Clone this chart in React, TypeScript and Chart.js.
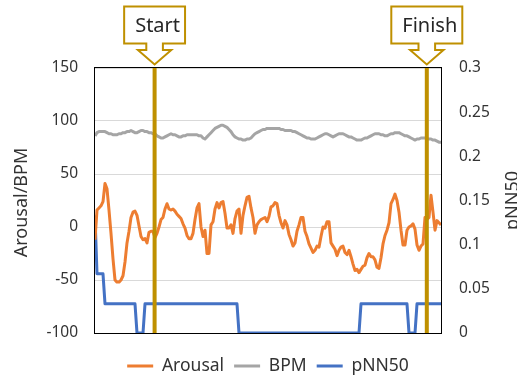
import { useEffect, useRef } from 'react';
import { Chart, registerables } from 'chart.js';

Chart.register(...registerables);

const FONT = "'Noto Sans', 'DejaVu Sans', sans-serif";

// ---- data ----
const seriesNames = ['Arousal', 'BPM', 'pNN50'];
const leftAxisTitle = 'Arousal/BPM';
const rightAxisTitle = 'pNN50';

const arousal = [
  -12, 16, 18, 20, 24, 41, 36, 16, -6, -30,
  -50, -52, -52, -50, -46, -33, -15, -4, 9, 14,
  15, 11, 1, -9, -12, -11, -15, -5, -4, -4,
  -10, -6, 0, 7, 9, 17, 22, 17, 16, 17,
  15, 12, 10, 8, 3, -1, -8, -11, -11, -6,
  7, 18, 22, 0, -9, -3, -25, -25, 2, 5,
  17, 23, 18, 23, 24, 13, -1, -1, 2, -6,
  8, 15, 17, -6, 11, 20, 28, 29, 18, 9,
  -6, 2, 5, 7, 8, 9, 5, 10, 19, 20,
  23, 22, 11, 4, -1, 6, 2, -7, -12, -18,
  -15, -4, 2, 9, 9, -4, -9, -16, -20, -24,
  -22, -18, -19, -9, 0, -1, 5, 5, -15, -18,
  -21, -27, -22, -19, -18, -24, -26, -22, -28, -35,
  -41, -40, -43, -40, -37, -36, -29, -25, -28, -28,
  -31, -38, -39, -29, -16, -8, -3, 4, 22, 26,
  31, 25, 14, -3, -17, -17, -3, 0, 1, 3,
  -2, -17, -22, -18, -16, 9, 7, 9, 30, 14,
  -3, 6, 4, 2,
];

const bpm = [
  86, 89, 90, 90, 90, 90, 89, 88, 88, 87,
  87, 87, 88, 88, 89, 89, 90, 90, 91, 90,
  89, 89, 90, 91, 91, 90, 90, 89, 89, 88,
  88, 86, 85, 84, 84, 85, 86, 87, 88, 87,
  87, 86, 85, 85, 86, 86, 87, 87, 87, 87,
  87, 87, 86, 86, 84, 83, 85, 87, 89, 91,
  93, 94, 95, 96, 96, 95, 94, 92, 90, 87,
  85, 84, 83, 83, 82, 82, 83, 83, 84, 86,
  88, 89, 90, 91, 92, 92, 93, 93, 93, 93,
  93, 93, 93, 92, 92, 91, 91, 91, 91, 90,
  90, 89, 88, 87, 86, 85, 84, 84, 83, 83,
  83, 84, 85, 86, 87, 88, 88, 87, 86, 85,
  86, 87, 88, 88, 88, 87, 86, 85, 85, 84,
  83, 82, 82, 82, 83, 84, 84, 85, 86, 87,
  88, 88, 88, 87, 87, 86, 86, 87, 88, 88,
  89, 89, 89, 88, 87, 86, 86, 85, 84, 83,
  82, 83, 83, 84, 84, 84, 83, 83, 83, 82,
  82, 81, 80, 80,
];

const pnn50 = [
  0.133, 0.067, 0.067, 0.067, 0.067, 0.033, 0.033, 0.033, 0.033, 0.033,
  0.033, 0.033, 0.033, 0.033, 0.033, 0.033, 0.033, 0.033, 0.033, 0.033,
  0.033, 0, 0, 0, 0, 0.033, 0.033, 0.033, 0.033, 0.033,
  0.033, 0.033, 0.033, 0.033, 0.033, 0.033, 0.033, 0.033, 0.033, 0.033,
  0.033, 0.033, 0.033, 0.033, 0.033, 0.033, 0.033, 0.033, 0.033, 0.033,
  0.033, 0.033, 0.033, 0.033, 0.033, 0.033, 0.033, 0.033, 0.033, 0.033,
  0.033, 0.033, 0.033, 0.033, 0.033, 0.033, 0.033, 0.033, 0.033, 0.033,
  0.033, 0.033, 0, 0, 0, 0, 0, 0, 0, 0,
  0, 0, 0, 0, 0, 0, 0, 0, 0, 0,
  0, 0, 0, 0, 0, 0, 0, 0, 0, 0,
  0, 0, 0, 0, 0, 0, 0, 0, 0, 0,
  0, 0, 0, 0, 0, 0, 0, 0, 0, 0,
  0, 0, 0, 0, 0, 0, 0, 0, 0, 0,
  0, 0, 0, 0.033, 0.033, 0.033, 0.033, 0.033, 0.033, 0.033,
  0.033, 0.033, 0.033, 0.033, 0.033, 0.033, 0.033, 0.033, 0.033, 0.033,
  0.033, 0.033, 0.033, 0.033, 0.033, 0.033, 0.033, 0, 0, 0,
  0, 0.033, 0.033, 0.033, 0.033, 0.033, 0.033, 0.033, 0.033, 0.033,
  0.033, 0.033, 0.033, 0.033,
];

const timeIndex = arousal.map((_, i) => i);

const leftMin = -100;
const leftMax = 150;
const leftStep = 50;
const rightMin = 0;
const rightMax = 0.3;
const rightStep = 0.05;

const markerLabels = ['Start', 'Finish'];
const markerTimes = [29.8, 165.9];

// ---- styles ----
const COLORS = ['#ED7D31', '#A5A5A5', '#4472C4'];
const GOLD = '#BF9000';
const TEXT = '#333333';

const decorPlugin = {
  id: 'decor',
  beforeDatasetsDraw(chart: any) {
    const { ctx, chartArea: a } = chart;
    ctx.save();
    ctx.strokeStyle = '#000000';
    ctx.lineWidth = 1;
    ctx.strokeRect(Math.round(a.left) - 0.5, Math.round(a.top) - 0.5, Math.round(a.right - a.left) + 1, Math.round(a.bottom - a.top) + 1);
    ctx.restore();
  },
  afterDatasetsDraw(chart: any) {
    const { ctx, chartArea: a, scales } = chart;
    ctx.save();
    ctx.fillStyle = GOLD;
    markerTimes.forEach((t) => {
      const x = scales.x.getPixelForValue(t);
      ctx.fillRect(x - 2, a.top, 4, a.bottom - a.top);
    });
    ctx.restore();
  },
  afterDraw(chart: any) {
    const { ctx, chartArea: a, scales } = chart;
    ctx.save();
    // callouts
    ctx.font = `20px ${FONT}`;
    markerTimes.forEach((t, i) => {
      const cx = scales.x.getPixelForValue(t);
      const label = markerLabels[i];
      const tw = ctx.measureText(label).width;
      const bw = tw + 16;
      const L = cx - bw / 2;
      const R = cx + bw / 2;
      const top = 6.5;
      const bot = 43.5;
      const sw = 8.3;
      const stemBot = 50;
      const hw = 16.7;
      const tip = 64.5;
      ctx.beginPath();
      ctx.moveTo(L, top);
      ctx.lineTo(R, top);
      ctx.lineTo(R, bot);
      ctx.lineTo(cx + sw, bot);
      ctx.lineTo(cx + sw, stemBot);
      ctx.lineTo(cx + hw, stemBot);
      ctx.lineTo(cx, tip);
      ctx.lineTo(cx - hw, stemBot);
      ctx.lineTo(cx - sw, stemBot);
      ctx.lineTo(cx - sw, bot);
      ctx.lineTo(L, bot);
      ctx.closePath();
      ctx.fillStyle = '#ffffff';
      ctx.fill();
      ctx.strokeStyle = GOLD;
      ctx.lineWidth = 2;
      ctx.lineJoin = 'miter';
      ctx.stroke();
      ctx.fillStyle = '#262626';
      ctx.textAlign = 'left';
      ctx.textBaseline = 'alphabetic';
      ctx.fillText(label, L + 11, 32);
    });
    // axis titles
    ctx.fillStyle = TEXT;
    ctx.font = `18px ${FONT}`;
    ctx.textAlign = 'center';
    const cy = (a.top + a.bottom) / 2;
    ctx.save();
    ctx.translate(22, cy + 2);
    ctx.rotate(-Math.PI / 2);
    ctx.textBaseline = 'middle';
    ctx.fillText(leftAxisTitle, 0, 0);
    ctx.restore();
    ctx.save();
    ctx.translate(518, cy);
    ctx.rotate(-Math.PI / 2);
    ctx.textBaseline = 'alphabetic';
    ctx.fillText(rightAxisTitle, 0, 0);
    ctx.restore();
    ctx.restore();
  },
};

export default function App() {
  const ref = useRef<HTMLCanvasElement | null>(null);
  useEffect(() => {
    if (!ref.current) return;
    Chart.defaults.font.family = FONT;
    const chart = new Chart(ref.current, {
      type: 'line',
      data: {
        labels: timeIndex,
        datasets: [
          { label: seriesNames[0], data: arousal, yAxisID: 'y' },
          { label: seriesNames[1], data: bpm, yAxisID: 'y' },
          { label: seriesNames[2], data: pnn50, yAxisID: 'y1' },
        ].map((d, i) => ({
          ...d,
          borderColor: COLORS[i],
          backgroundColor: COLORS[i],
          borderWidth: 3,
          pointRadius: 0,
          tension: 0,
          borderJoinStyle: 'round' as const,
          borderCapStyle: 'butt' as const,
        })),
      },
      options: {
        responsive: false,
        animation: false,
        devicePixelRatio: 1,
        layout: { padding: { top: 68, left: 19, right: 0, bottom: -6.75 } },
        plugins: {
          legend: {
            position: 'bottom',
            labels: {
              usePointStyle: true,
              pointStyle: 'line',
              pointStyleWidth: 26,
              padding: 10,
              color: TEXT,
              font: { size: 17.5, family: FONT },
            },
          },
          tooltip: { enabled: false },
        },
        scales: {
          x: {
            type: 'linear',
            min: 0,
            max: timeIndex.length - 1,
            ticks: { display: false },
            grid: { display: false },
            border: { display: false },
            afterFit: (s: any) => { s.height = 14.25; },
          },
          y: {
            position: 'left',
            min: leftMin,
            max: leftMax,
            ticks: { stepSize: leftStep, padding: 17, color: TEXT, font: { size: 15.5, family: FONT } },
            grid: { color: '#D9D9D9', lineWidth: 1, drawTicks: false },
            border: { display: false },
            afterFit: (s: any) => { s.width = 76; },
          },
          y1: {
            position: 'right',
            min: rightMin,
            max: rightMax,
            ticks: {
              stepSize: rightStep,
              padding: 18,
              color: TEXT,
              font: { size: 15.5, family: FONT },
              callback: (v: any) => String(+Number(v).toFixed(2)),
            },
            grid: { display: false, drawTicks: false },
            border: { display: false },
            afterFit: (s: any) => { s.width = 76; },
          },
        },
      },
      plugins: [decorPlugin],
    } as any);
    return () => chart.destroy();
  }, []);
  return (
    <div style={{ position: 'fixed', left: 0, top: 0, width: 517, height: 378, background: '#fff' }}>
      <canvas ref={ref} width={517} height={378} />
    </div>
  );
}
